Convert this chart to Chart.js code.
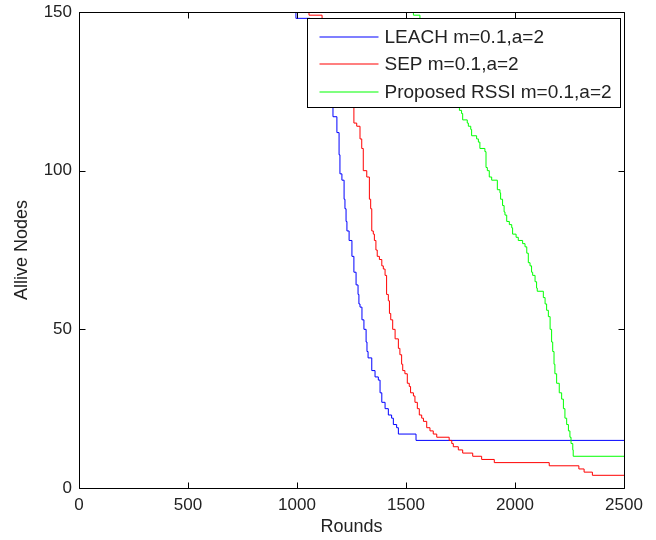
<!DOCTYPE html>
<html>
<head>
<meta charset="utf-8">
<script src="https://cdn.jsdelivr.net/npm/chart.js@4.4.1/dist/chart.umd.min.js"></script>
<style>
  html, body { margin: 0; padding: 0; background: #fff; }
  canvas { display: block; }
</style>
</head>
<body>
<canvas id="aliveChart" width="656" height="540"></canvas>
<script>
// series labels
const seriesLabels = ["LEACH m=0.1,a=2", "SEP m=0.1,a=2", "Proposed RSSI m=0.1,a=2"];

// LEACH: round at which the alive count drops to the given value
const leachRounds = [0, 995, 1060, 1100, 1130, 1159, 1165, 1183, 1193, 1197, 1206, 1216, 1220, 1225, 1229,
    1239, 1252, 1261, 1271, 1280, 1284, 1289, 1298, 1307, 1317, 1321, 1326, 1343, 1358, 1373, 1381,
    1389, 1404, 1419, 1434, 1442, 1457, 1465, 1546, 2500];
const leachAlive = [150, 148, 145, 138, 130, 120, 117, 112, 105, 99, 97, 91, 88, 84, 81,
    78, 73, 68, 64, 61, 58, 57, 53, 50, 46, 43, 41, 37, 35, 34, 30,
    27, 25, 23, 22, 20, 19, 17, 15, 15];

// SEP
const sepRounds = [0, 1055, 1115, 1150, 1190, 1225, 1251, 1261, 1274, 1289, 1297, 1304, 1320, 1332, 1338,
    1343, 1350, 1355, 1362, 1368, 1378, 1389, 1396, 1404, 1411, 1419, 1424, 1430, 1439, 1450, 1465,
    1472, 1480, 1485, 1495, 1506, 1515, 1521, 1534, 1541, 1552, 1561, 1572, 1580, 1595, 1610, 1625,
    1641, 1698, 1710, 1717, 1740, 1760, 1806, 1847, 1905, 2157, 2293, 2317, 2355, 2500];
const sepAlive = [150, 149, 146, 140, 133, 126, 120, 115, 114, 110, 107, 100, 98, 91, 88,
    81, 80, 78, 75, 73, 72, 70, 69, 67, 61, 59, 55, 53, 50, 47, 44,
    42, 39, 37, 36, 33, 32, 30, 29, 27, 25, 23, 22, 21, 19, 18, 17,
    16, 15, 14, 13, 12, 11, 10, 9, 8, 7, 6, 5, 4, 4];

// Proposed RSSI
const rssiRounds = [0, 1534, 1564, 1610, 1660, 1705, 1740, 1745, 1755, 1760, 1781, 1786, 1797, 1801, 1824,
    1832, 1839, 1862, 1867, 1873, 1882, 1893, 1919, 1931, 1934, 1943, 1950, 1954, 1962, 1974, 1985,
    1989, 2005, 2015, 2035, 2046, 2054, 2061, 2069, 2076, 2081, 2092, 2099, 2102, 2130, 2138, 2145,
    2153, 2161, 2168, 2173, 2179, 2183, 2191, 2203, 2214, 2222, 2229, 2237, 2245, 2252, 2257, 2265,
    2267, 2500];
const rssiAlive = [150, 149, 147, 140, 132, 125, 120, 119, 118, 116, 115, 114, 113, 111, 110,
    109, 107, 106, 101, 100, 98, 97, 94, 93, 91, 89, 87, 86, 84, 83, 82,
    80, 79, 78, 77, 76, 74, 71, 70, 68, 67, 65, 63, 62, 60, 58, 56,
    54, 50, 46, 43, 39, 36, 33, 30, 28, 25, 22, 20, 18, 16, 14, 12,
    10, 10];

// axis ticks
const xTicks = [0, 500, 1000, 1500, 2000, 2500];
const yTicks = [0, 50, 100, 150];

const seriesColors = ["#0000ff", "#ff0000", "#00ff00"];

function toPoints(rounds, alive) {
    return rounds.map(function (r, i) { return { x: r, y: alive[i] }; });
}

// MATLAB style box with inward tick marks, plus the legend inside the axes
const boxPlugin = {
    id: "matlabBox",
    afterDatasetsDraw: function (chart) {
        const ctx = chart.ctx;
        const a = chart.chartArea;
        const xs = chart.scales.x;
        const ys = chart.scales.y;
        const L = Math.round(a.left) + 0.5, R = Math.round(a.right) + 0.5;
        const T = Math.round(a.top) + 0.5, B = Math.round(a.bottom) + 0.5;
        ctx.save();
        ctx.strokeStyle = "#000";
        ctx.lineWidth = 1;
        ctx.beginPath();
        ctx.rect(L, T, R - L, B - T);
        xTicks.forEach(function (v) {
            const px = Math.round(xs.getPixelForValue(v)) + 0.5;
            ctx.moveTo(px, B); ctx.lineTo(px, B - 6);
            ctx.moveTo(px, T); ctx.lineTo(px, T + 6);
        });
        yTicks.forEach(function (v) {
            const py = Math.round(ys.getPixelForValue(v)) + 0.5;
            ctx.moveTo(L, py); ctx.lineTo(L + 6, py);
            ctx.moveTo(R, py); ctx.lineTo(R - 6, py);
        });
        ctx.stroke();

        // legend box
        const bw = 313, bh = 89;
        const left = R - 4 - bw, by = T + 6;
        ctx.fillStyle = "#fff";
        ctx.fillRect(left, by, bw, bh);
        ctx.strokeStyle = "#000";
        ctx.strokeRect(left, by, bw, bh);
        ctx.font = "19px 'Liberation Sans', Arial, sans-serif";
        ctx.textBaseline = "middle";
        chart.data.datasets.forEach(function (ds, i) {
            const ry = Math.round(by + 18 + i * 27.8);
            ctx.strokeStyle = ds.borderColor;
            ctx.lineWidth = 1.2;
            ctx.beginPath();
            ctx.moveTo(left + 12, ry);
            ctx.lineTo(left + 71, ry);
            ctx.stroke();
            ctx.fillStyle = "#222";
            ctx.fillText(ds.label, left + 77, ry + 1);
        });
        ctx.restore();
    }
};

const tickFont = { family: "'Liberation Sans', Arial, sans-serif", size: 17 };
const titleFont = { family: "'Liberation Sans', Arial, sans-serif", size: 18 };

new Chart(document.getElementById("aliveChart"), {
    type: "line",
    data: {
        datasets: [
            { label: seriesLabels[0], data: toPoints(leachRounds, leachAlive), borderColor: seriesColors[0], order: 3 },
            { label: seriesLabels[1], data: toPoints(sepRounds, sepAlive), borderColor: seriesColors[1], order: 2 },
            { label: seriesLabels[2], data: toPoints(rssiRounds, rssiAlive), borderColor: seriesColors[2], order: 1 }
        ].map(function (ds) {
            return Object.assign(ds, { borderWidth: 1, pointRadius: 0, stepped: true, fill: false });
        })
    },
    options: {
        responsive: false,
        animation: false,
        events: [],
        layout: { padding: { left: 0, top: 12, right: 32, bottom: 0 } },
        plugins: { legend: { display: false }, tooltip: { enabled: false } },
        scales: {
            x: {
                type: "linear",
                min: 0,
                max: 2500,
                afterFit: function (s) {
                    s.height = 52;
                    s.paddingLeft = 0; s.paddingRight = 0;
                },
                afterBuildTicks: function (s) { s.ticks = xTicks.map(function (v) { return { value: v }; }); },
                grid: { display: false, drawTicks: false },
                border: { display: false },
                ticks: {
                    color: "#222", font: tickFont, padding: 7, autoSkip: false, maxRotation: 0,
                    callback: function (v) { return String(v); }
                },
                title: { display: true, text: "Rounds", color: "#222", font: titleFont, padding: { top: 0, bottom: 2 } }
            },
            y: {
                min: 0,
                max: 150,
                afterFit: function (s) {
                    s.width = 79;
                    s.paddingTop = 0; s.paddingBottom = 0;
                },
                afterBuildTicks: function (s) { s.ticks = yTicks.map(function (v) { return { value: v }; }); },
                grid: { display: false, drawTicks: false },
                border: { display: false },
                ticks: {
                    color: "#222", font: tickFont, padding: 7, autoSkip: false,
                    callback: function (v) { return String(v); }
                },
                title: { display: true, text: "Allive Nodes", color: "#222", font: titleFont, padding: { top: 11, bottom: 0 } }
            }
        }
    },
    plugins: [boxPlugin]
});
</script>
</body>
</html>
